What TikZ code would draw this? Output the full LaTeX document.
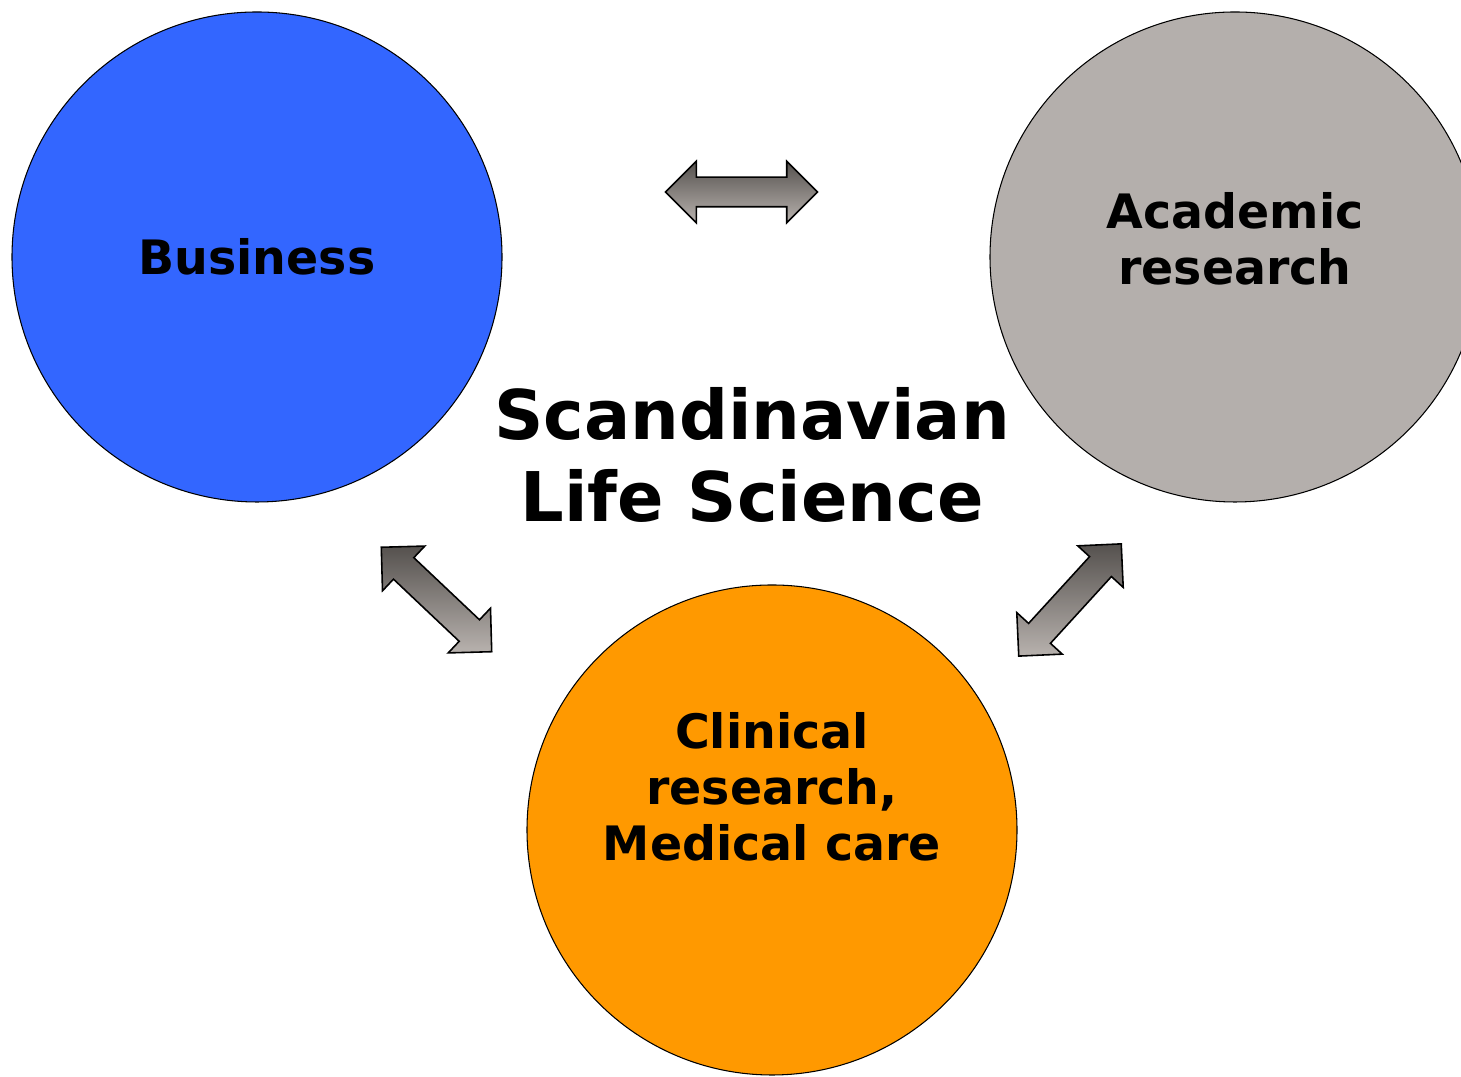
\documentclass[tikz,border=0pt]{standalone}
\usepackage{fontspec}
\setmainfont{DejaVu Sans}
\usetikzlibrary{shapes.arrows}
\definecolor{businessBlue}{HTML}{3366FF}
\definecolor{academicGrey}{HTML}{B4AFAC}
\definecolor{clinicalOrange}{HTML}{FF9900}
\definecolor{arrowDark}{HTML}{55514E}
\definecolor{arrowLight}{HTML}{B8B2AE}
\newcommand*{\ringSize}{490} % circle diameter in px
\newcommand*{\linkLength}{152}
\begin{document}
\begin{tikzpicture}[x=0.02cm, y=0.02cm,
    field/.style={circle, draw=black, line width=0.6pt, minimum size=\ringSize*0.02cm, inner sep=0pt, align=center,
                  font=\fontsize{27}{32}\selectfont\bfseries},
    link/.style={double arrow, draw=black, line width=0.9pt, inner xsep=0pt, inner ysep=0.28cm,
                 minimum height=\linkLength*0.02cm, double arrow head extend=0.32cm,
                 top color=arrowDark, bottom color=arrowLight}]
\useasboundingbox (0,0) rectangle (1461,1077);
% the three circles
\node[field, fill=businessBlue] (business) at (257,820) {Business};
\node[field, fill=academicGrey] (academic) at (1235,820) {Academic\\research\\[-0.37cm]};
\node[field, fill=clinicalOrange] (clinical) at (772,247) {Clinical\\research,\\Medical care\\[0.62cm]};
% centre title
\node[align=center, font=\fontsize{39}{47}\selectfont\bfseries] (title) at (752,622) {Scandinavian\\Life Science};
% arrows between them
\node[link] (topLink) at (741.5,885) {};
\node[link, rotate=-43.4] (leftLink) at (436.5,477.5) {};
\node[link, rotate=47.6] (rightLink) at (1070,477) {};
\end{tikzpicture}
\end{document}
